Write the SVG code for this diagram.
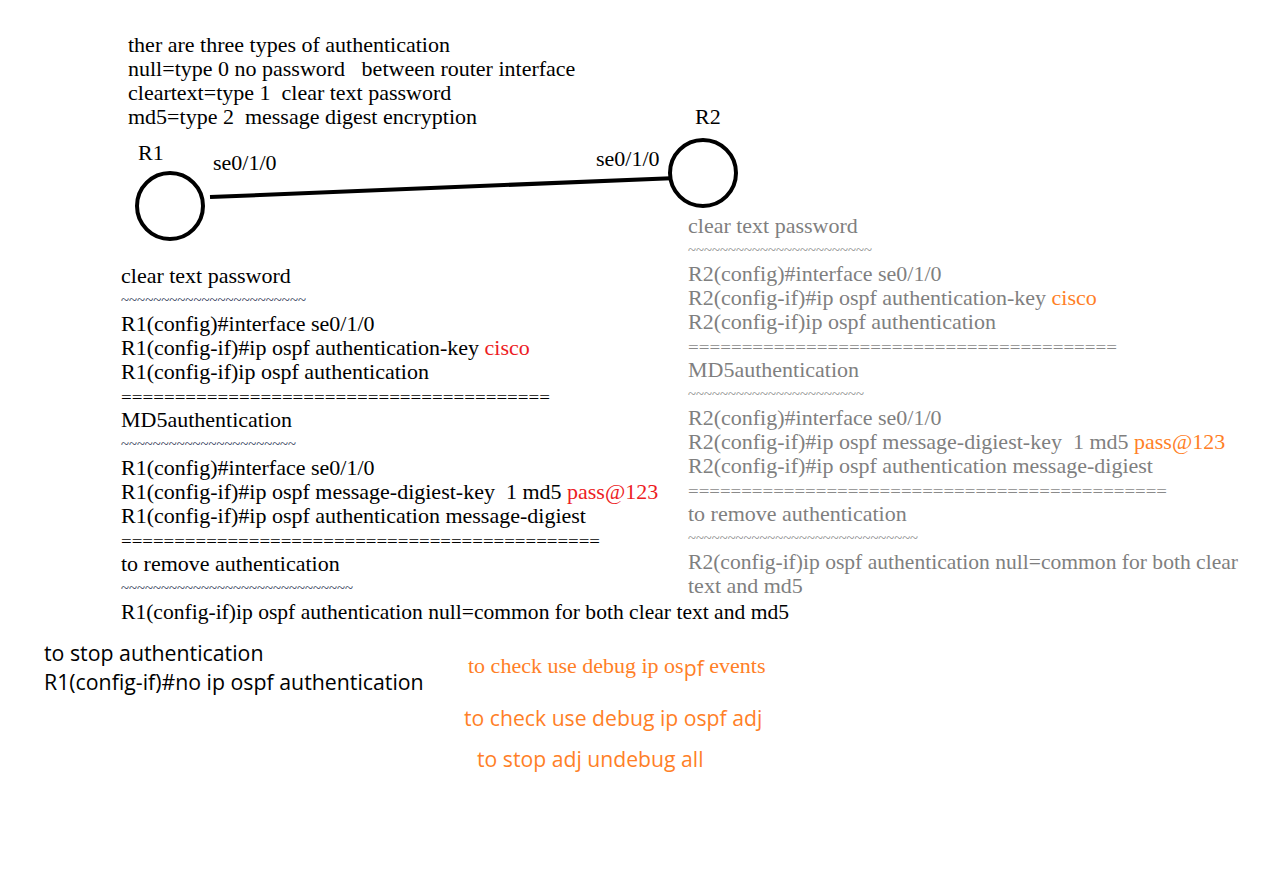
<svg xmlns="http://www.w3.org/2000/svg" width="1267" height="875" viewBox="0 0 1267 875">
<style>
.s{font-family:"Liberation Serif","Times New Roman",serif;font-size:22px;fill:#000}
.g{fill:#7f7f7f}
.red{fill:#ed1c24}
.or{fill:#ff7f27}
.t{font-family:"Liberation Serif",serif;font-size:14px;fill:#1f3050}
.tg{font-family:"Liberation Serif",serif;font-size:14px;fill:#8a8a8a}
.eq{font-family:"Liberation Serif",serif;font-size:16px;fill:#000}
.eqg{font-family:"Liberation Serif",serif;font-size:16px;fill:#8a8a8a}
.sans{font-family:"Open Sans","Liberation Sans",sans-serif;font-size:21.3px;fill:#000}
.osans{font-family:"Open Sans","Liberation Sans",sans-serif;font-size:21.2px;fill:#ff7f27}
.node{fill:#fff;stroke:#000;stroke-width:4}
.link{stroke:#000;stroke-width:4;fill:none}
</style>
<rect width="1267" height="875" fill="#fff"/>
<g id="intro" class="s">
<text x="128" y="52">ther are three types of authentication</text>
<text x="128" y="76" xml:space="preserve">null=type 0 no password   between router interface</text>
<text x="128" y="100" xml:space="preserve">cleartext=type 1  clear text password</text>
<text x="128" y="124" xml:space="preserve">md5=type 2  message digest encryption</text>
</g>
<g id="connectors">
<line class="link" x1="210" y1="197" x2="677" y2="178"/>
</g>
<g id="R1">
<circle class="node" cx="170" cy="206" r="33"/>
<text class="s" x="138" y="160">R1</text>
<text class="s" x="213" y="170">se0/1/0</text>
</g>
<g id="R2">
<circle class="node" cx="703" cy="173" r="33"/>
<text class="s" x="695" y="124">R2</text>
<text class="s" x="596" y="166">se0/1/0</text>
</g>
<g id="R1-config" class="s">
<text x="121" y="283">clear text password</text>
<text class="t" x="121" y="305" textLength="185" lengthAdjust="spacingAndGlyphs">~~~~~~~~~~~~~~~~~~~~~~~</text>
<text x="121" y="331">R1(config)#interface se0/1/0</text>
<text x="121" y="355">R1(config-if)#ip ospf authentication-key <tspan class="red">cisco</tspan></text>
<text x="121" y="379">R1(config-if)ip ospf authentication</text>
<text class="eq" x="121" y="403" textLength="429" lengthAdjust="spacingAndGlyphs">========================================</text>
<text x="121" y="427">MD5authentication</text>
<text class="t" x="121" y="449" textLength="175" lengthAdjust="spacingAndGlyphs">~~~~~~~~~~~~~~~~~~~~~~</text>
<text x="121" y="475">R1(config)#interface se0/1/0</text>
<text x="121" y="499" xml:space="preserve">R1(config-if)#ip ospf message-digiest-key  1 md5 <tspan class="red">pass@123</tspan></text>
<text x="121" y="523">R1(config-if)#ip ospf authentication message-digiest</text>
<text class="eq" x="121" y="547" textLength="479" lengthAdjust="spacingAndGlyphs">=============================================</text>
<text x="121" y="571">to remove authentication</text>
<text class="t" x="121" y="593" textLength="232" lengthAdjust="spacingAndGlyphs">~~~~~~~~~~~~~~~~~~~~~~~~~~~~~</text>
<text x="121" y="619" textLength="668" lengthAdjust="spacingAndGlyphs">R1(config-if)ip ospf authentication null=common for both clear text and md5</text>
</g>
<g id="R2-config" class="s g">
<text x="688" y="233">clear text password</text>
<text class="tg" x="688" y="255" textLength="184" lengthAdjust="spacingAndGlyphs">~~~~~~~~~~~~~~~~~~~~~~~</text>
<text x="688" y="281">R2(config)#interface se0/1/0</text>
<text x="688" y="305">R2(config-if)#ip ospf authentication-key <tspan class="or">cisco</tspan></text>
<text x="688" y="329">R2(config-if)ip ospf authentication</text>
<text class="eqg" x="688" y="353" textLength="429" lengthAdjust="spacingAndGlyphs">========================================</text>
<text x="688" y="377">MD5authentication</text>
<text class="tg" x="688" y="399" textLength="176" lengthAdjust="spacingAndGlyphs">~~~~~~~~~~~~~~~~~~~~~~</text>
<text x="688" y="425">R2(config)#interface se0/1/0</text>
<text x="688" y="449" xml:space="preserve">R2(config-if)#ip ospf message-digiest-key  1 md5 <tspan class="or">pass@123</tspan></text>
<text x="688" y="473">R2(config-if)#ip ospf authentication message-digiest</text>
<text class="eqg" x="688" y="497" textLength="479" lengthAdjust="spacingAndGlyphs">=============================================</text>
<text x="688" y="521">to remove authentication</text>
<text class="tg" x="688" y="543" textLength="230" lengthAdjust="spacingAndGlyphs">~~~~~~~~~~~~~~~~~~~~~~~~~~~~~</text>
<text x="688" y="569" textLength="550" lengthAdjust="spacingAndGlyphs">R2(config-if)ip ospf authentication null=common for both clear</text>
<text x="688" y="593">text and md5</text>
</g>
<g id="notes">
<text class="sans" x="44" y="661">to stop authentication</text>
<text class="sans" x="44" y="690">R1(config-if)#no ip ospf authentication</text>
<text class="s or" x="468" y="673" font-size="21.5px" xml:space="preserve">to check use debug ip os<tspan class="osans" font-size="22px" dy="3">pf</tspan><tspan dy="-3"> events</tspan></text>
<text class="osans" x="464" y="726">to check use debug ip ospf adj</text>
<text class="osans" x="477" y="767">to stop adj undebug all</text>
</g>
</svg>
